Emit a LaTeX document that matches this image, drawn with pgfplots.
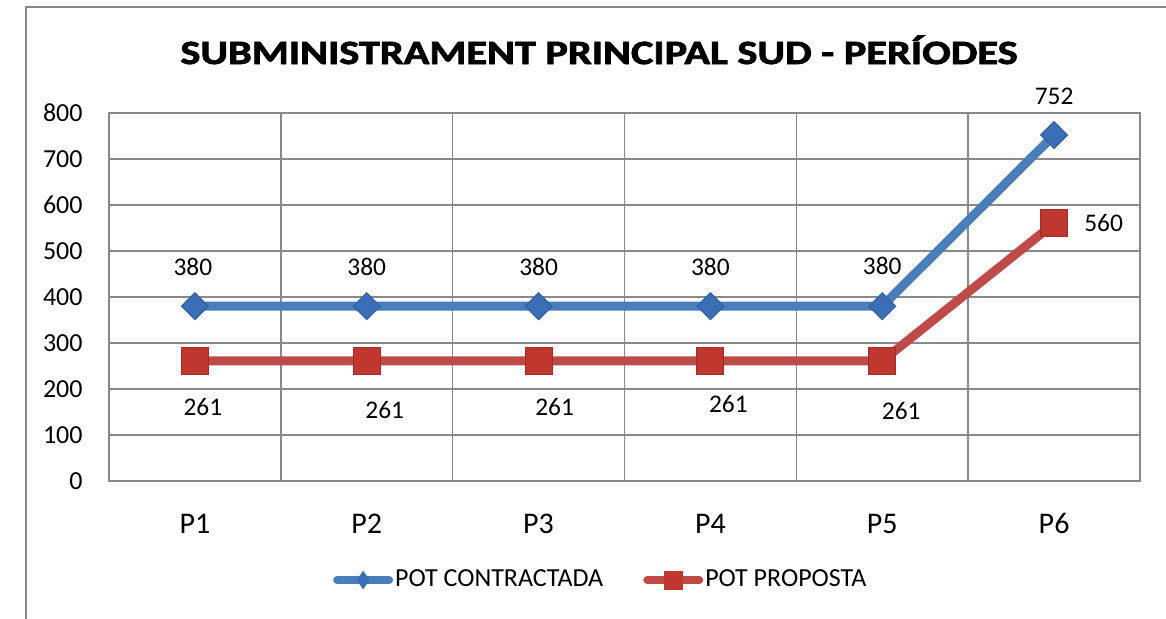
\documentclass[border=0pt]{standalone}
\usepackage{fontspec}
\setmainfont{Carlito}
\usepackage{pgfplots}
\usepackage{pgfplotstable}
\pgfplotsset{compat=1.18}
\definecolor{bl}{HTML}{4A7EBB}
\definecolor{blm}{HTML}{3A6FB5}
\definecolor{blb}{HTML}{2F5F9E}
\definecolor{rd}{HTML}{BE4B48}
\definecolor{rdm}{HTML}{C0372F}
\definecolor{rdb}{HTML}{A02C28}
\definecolor{grd}{HTML}{898989}

\pgfplotstableread{
x y dx dy
0 380 -1 19.5
1 380 0 19.5
2 380 0 19.5
3 380 0 19.5
4 380 0 20
5 752 0 19.25
}\contr
\pgfplotstableread{
x y dx dy
0 261 4 -23
1 261 9 -24.5
2 261 8 -23
3 261 9 -21.75
4 261 9.5 -25.25
5 560 24.75 0
}\prop

\begin{document}
\begin{tikzpicture}
\useasboundingbox (0,0) rectangle (583pt,-309pt);
\draw[grd, line width=0.75pt] (13pt,-330pt) -- (13pt,-3.5pt) -- (600pt,-3.5pt);
\node[anchor=base, inner sep=0pt, font=\fontsize{17}{20}\selectfont\bfseries\addfontfeature{FakeBold=2}] at (299.5pt,-32pt) {\scalebox{1.245}[1]{SUBMINISTRAMENT PRINCIPAL SUD - PERÍODES}};
\begin{axis}[
  at={(54.5pt,-240.5pt)}, anchor=south west,
  scale only axis, width=515.5pt, height=184pt,
  xmin=-0.5, xmax=5.5, ymin=0, ymax=800,
  ytick={0,100,...,800},
  xtick={0,1,2,3,4,5},
  xticklabels={P1,P2,P3,P4,P5,P6},
  minor xtick={-0.5,0.5,1.5,2.5,3.5,4.5,5.5},
  xminorgrids=true, xmajorgrids=false, ymajorgrids=true,
  major tick length=0pt, minor tick length=0pt,
  axis line style={grd, line width=0.75pt},
  major grid style={grd, line width=0.75pt},
  minor grid style={grd, line width=0.75pt},
  /pgf/number format/assume math mode=true,
  yticklabel style={font=\fontsize{13}{15}\selectfont, anchor=east, inner sep=0pt, xshift=-13pt},
  xticklabel style={font=\fontsize{15}{18}\selectfont, anchor=base, inner sep=0pt, yshift=-26pt},
  clip=false,
  nodes near coords={\pgfmathprintnumber[assume math mode=true]{\pgfplotspointmeta}},
  legend columns=2,
  legend style={at={(0.476,-0.269)}, anchor=center, draw=none, fill=none, inner sep=0pt,
    font=\fontsize{13}{15}\selectfont,
    nodes={inner sep=0pt},
    /tikz/every even column/.append style={column sep=20pt},
    /tikz/every odd column/.append style={column sep=1pt}},
]
\addplot[forget plot, bl, line width=4.5pt, mark=square*, mark size=4.77pt,
  mark options={rotate=45, fill=blm, draw=blb, line width=0.5pt},
  visualization depends on=\thisrow{dx}\as\dx,
  visualization depends on=\thisrow{dy}\as\dy,
  every node near coord/.append style={black, anchor=center, xshift=\dx pt, yshift=\dy pt, font=\fontsize{12.7}{15}\selectfont}]
  table[x=x, y=y] {\contr};
\addplot[forget plot, rd, line width=4.5pt, mark=square*, mark size=6.75pt,
  mark options={fill=rdm, draw=rdb, line width=0.5pt},
  visualization depends on=\thisrow{dx}\as\dx,
  visualization depends on=\thisrow{dy}\as\dy,
  every node near coord/.append style={black, anchor=center, xshift=\dx pt, yshift=\dy pt, font=\fontsize{12.7}{15}\selectfont}]
  table[x=x, y=y] {\prop};
\addlegendimage{legend image code/.code={
    \draw[bl, line width=4pt, line cap=round] (2pt,0pt) -- (28pt,0pt);
    \fill[blm] (15pt,4.3pt) -- (18pt,0pt) -- (15pt,-4.3pt) -- (12pt,0pt) -- cycle;
  }}
\addlegendentry{POT CONTRACTADA}
\addlegendimage{legend image code/.code={
    \draw[rd, line width=4pt, line cap=round] (2pt,0pt) -- (28pt,0pt);
    \fill[rdm] (10.5pt,-4.5pt) rectangle (19.5pt,4.5pt);
  }}
\addlegendentry{POT PROPOSTA}
\end{axis}
\end{tikzpicture}
\end{document}
